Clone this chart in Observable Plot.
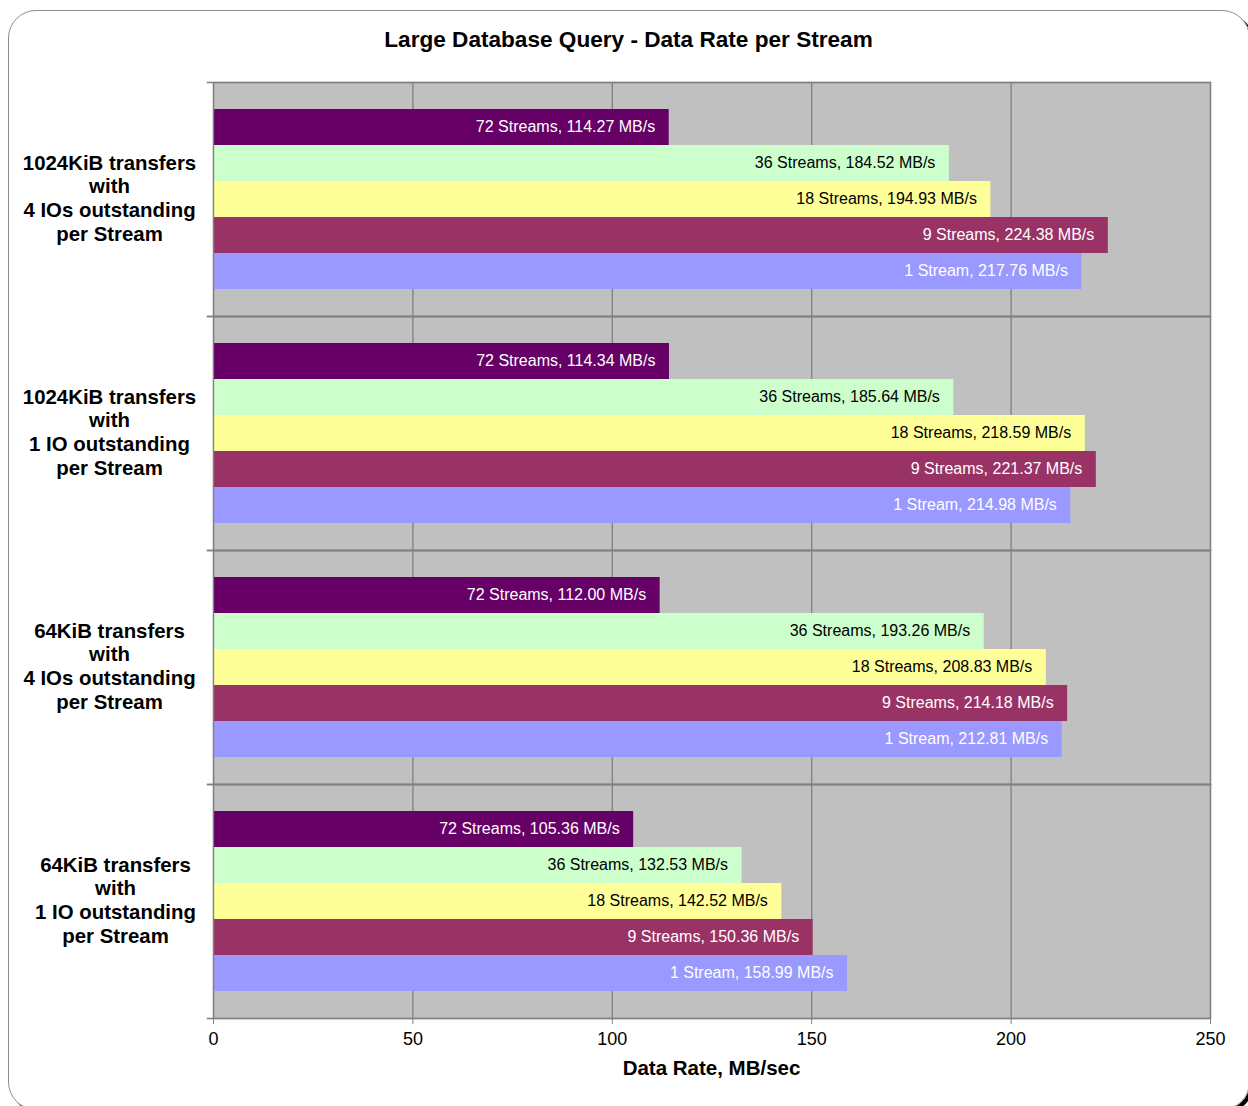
<!DOCTYPE html>
<html>
<head>
<meta charset="utf-8">
<script src="https://cdn.jsdelivr.net/npm/d3@7"></script>
<script src="https://cdn.jsdelivr.net/npm/@observablehq/plot@0.6"></script>
<style>
  html, body { margin: 0; padding: 0; background: #fff; }
  #wrap { position: relative; width: 1248px; height: 1106px; overflow: hidden; font-family: "Liberation Sans", Arial, sans-serif; }
  #border { position: absolute; left: 8px; top: 10px; width: 1242px; height: 1100px; border: 1px solid #8c8c8c; border-radius: 28px; box-sizing: border-box; box-shadow: 3px 3px 0 #000; }
  #title { position: absolute; left: 0; width: 1257px; top: 27px; line-height: 26px; text-align: center; font-weight: bold; font-size: 22.6px; color: #000; }
  #xlabel { position: absolute; left: 213px; width: 997px; top: 1056px; line-height: 24px; text-align: center; font-weight: bold; font-size: 20.5px; color: #000; }
  #chart { position: absolute; left: 0; top: 0; }
</style>
</head>
<body>
<div id="wrap">
  <div id="border"></div>
  <div id="chart"></div>
  <div id="title">Large Database Query - Data Rate per Stream</div>
  <div id="xlabel">Data Rate, MB/sec</div>
</div>
<script>
// Groups (top to bottom)
const groups = [
  "1024KiB transfers\nwith\n4 IOs outstanding\nper Stream",
  "1024KiB transfers\nwith\n1 IO outstanding\nper Stream",
  "64KiB transfers\nwith\n4 IOs outstanding\nper Stream",
  "64KiB transfers\nwith\n1 IO outstanding\nper Stream"
];
// Series (top to bottom within each group)
const series = ["72 Streams", "36 Streams", "18 Streams", "9 Streams", "1 Stream"];
const seriesColors = ["#660066", "#CCFFCC", "#FFFF99", "#993366", "#9999FF"];
const labelColors = ["#ffffff", "#000000", "#000000", "#ffffff", "#ffffff"];

// Values per group, in series order
const values1024k4io = [114.27, 184.52, 194.93, 224.38, 217.76];
const values1024k1io = [114.34, 185.64, 218.59, 221.37, 214.98];
const values64k4io = [112.00, 193.26, 208.83, 214.18, 212.81];
const values64k1io = [105.36, 132.53, 142.52, 150.36, 158.99];
const allValues = [values1024k4io, values1024k1io, values64k4io, values64k1io];

const xTicks = [0, 50, 100, 150, 200, 250];

const data = [];
groups.forEach((g, gi) => {
  series.forEach((s, si) => {
    data.push({group: g, series: s, value: allValues[gi][si], fill: seriesColors[si], textFill: labelColors[si]});
  });
});

const labelStyle = {textAnchor: "middle", fontWeight: "bold", fontSize: 20.4, lineHeight: 1.16, fill: "#000", frameAnchor: "left", dy: -2};

const chart = Plot.plot({
  width: 1248,
  height: 1106,
  marginLeft: 213,
  marginRight: 38,
  marginTop: 81,
  marginBottom: 88,
  style: {fontFamily: "'Liberation Sans', Arial, sans-serif", background: "transparent", overflow: "visible"},
  x: {domain: [0, 250], axis: null},
  y: {domain: series, paddingInner: 0, paddingOuter: 0.75, axis: null},
  fy: {domain: groups, padding: 0, axis: null},
  color: {type: "identity"},
  marks: [
    Plot.frame({fill: "#C0C0C0", stroke: "none"}),
    Plot.gridX({ticks: xTicks, stroke: "#808080", strokeOpacity: 1, strokeWidth: 1.3}),
    Plot.barX(data, {x: "value", y: "series", fy: "group", fill: "fill"}),
    Plot.text(data, {
      x: "value", y: "series", fy: "group",
      text: d => `${d.series}, ${d.value.toFixed(2)} MB/s`,
      textAnchor: "end", dx: -14, dy: -1, fill: "textFill", fontSize: 16
    }),
    Plot.frame({stroke: "#808080", strokeWidth: 1.3}),
    Plot.frame({anchor: "top", insetLeft: -6, stroke: "#808080", strokeWidth: 1.3}),
    Plot.frame({anchor: "bottom", insetLeft: -6, stroke: "#808080", strokeWidth: 1.3}),
    Plot.text(groups.slice(0, 3), {fy: d => d, text: d => d, dx: -104, ...labelStyle}),
    Plot.text(groups.slice(3), {fy: d => d, text: d => d, dx: -98, ...labelStyle}),
    Plot.axisX({ticks: xTicks, tickSize: 6, tickPadding: 8, fontSize: 18, stroke: "#808080", fill: "#000", label: null, tickFormat: d => String(d)})
  ]
});
document.getElementById("chart").appendChild(chart);
</script>
</body>
</html>
